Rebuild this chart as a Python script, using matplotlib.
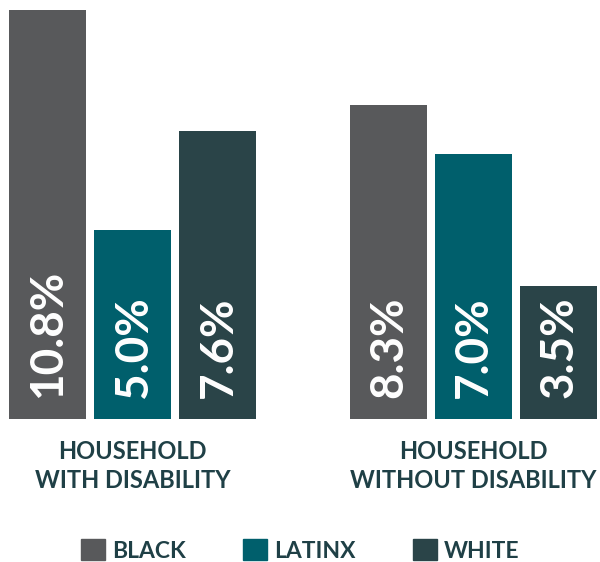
import matplotlib.pyplot as plt
from matplotlib.patches import Patch

# data
groups = ["HOUSEHOLD\nWITH DISABILITY", "HOUSEHOLD\nWITHOUT DISABILITY"]
races = ["BLACK", "LATINX", "WHITE"]
with_disability = [10.8, 5.0, 7.6]
without_disability = [8.3, 7.0, 3.5]
colors = ["#58595b", "#005f6c", "#2a4448"]
text_color = "#1f4046"

plt.rcParams['font.family'] = ['Lato', 'DejaVu Sans']

W, H = 600, 562
fig = plt.figure(figsize=(W / 100, H / 100), dpi=100)
# axes spans the plot area in pixel terms: bottom at y=419, top at y=10
ax = fig.add_axes([0, (H - 419) / H, 1, (419 - 10) / H])

px_per_unit = 511 / 6
ax.set_xlim(-47.5 / px_per_unit, (W - 47.5) / px_per_unit)
ax.set_ylim(0, 10.8)
ax.axis('off')

values = [with_disability, without_disability]
bar_w = 77 / px_per_unit
handles = []
for g, vals in enumerate(values):
    for i, v in enumerate(vals):
        x = g * 4 + i
        ax.bar(x, v, width=bar_w, color=colors[i])
        if g == 0:
            handles.append(Patch(color=colors[i], label=races[i]))
        ax.text(x + 0.01, 0.55, f"{v:.1f}%", rotation=90, ha='center', va='bottom',
                color='white', fontsize=33, fontweight='bold')
    ax.text(g * 4 + 1, -0.55, groups[g], ha='center', va='top',
            color=text_color, fontsize=17, fontweight='bold', linespacing=1.3)

fig.legend(handles=handles, loc='lower center', bbox_to_anchor=(0.5, -0.036),
           ncol=3, frameon=False, handlelength=1.05,
           handleheight=1.05, handletextpad=0.3, columnspacing=2.5,
           labelcolor=text_color, prop={'weight': 'bold', 'size': 16.5})

fig.savefig("out.png", dpi=100)
